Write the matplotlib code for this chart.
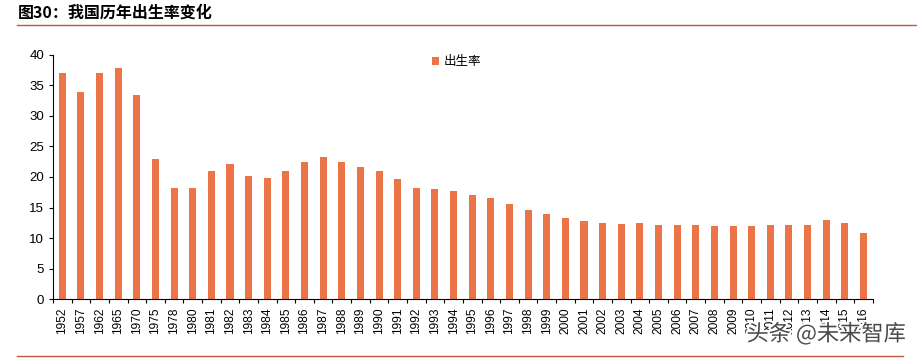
import matplotlib.pyplot as plt
import matplotlib.patheffects as pe
import numpy as np

plt.rcParams['font.family'] = ['Liberation Sans', 'Noto Sans CJK SC', 'DejaVu Sans']

# 年份与出生率（‰）
years = ['1952', '1957', '1962', '1965', '1970', '1975', '1978', '1980',
         '1981', '1982', '1983', '1984', '1985', '1986', '1987', '1988',
         '1989', '1990', '1991', '1992', '1993', '1994', '1995', '1996',
         '1997', '1998', '1999', '2000', '2001', '2002', '2003', '2004',
         '2005', '2006', '2007', '2008', '2009', '2010', '2011', '2012',
         '2013', '2014', '2015', '2016']
birth_rate = [37.0, 34.0, 37.0, 37.9, 33.5, 23.0, 18.25, 18.2,
              20.9, 22.2, 20.2, 19.9, 21.0, 22.4, 23.3, 22.4,
              21.6, 21.0, 19.7, 18.2, 18.0, 17.7, 17.0, 16.6,
              15.6, 14.6, 14.0, 13.3, 12.8, 12.4, 12.3, 12.4,
              12.1, 12.1, 12.1, 11.9, 11.9, 11.9, 12.1, 12.1,
              12.1, 13.0, 12.4, 10.9]

bar_color = '#EC7449'
line_color = '#B8593E'

fig = plt.figure(figsize=(9.17, 3.59), dpi=100)
ax = fig.add_axes([0.0578, 0.167, 0.894, 0.68])

x = np.arange(len(years))
ax.bar(x, birth_rate, width=0.38, color=bar_color, label='出生率', zorder=2)

ax.set_xlim(-0.5, len(years) - 0.5)
ax.set_ylim(0, 40)
ax.set_yticks(range(0, 41, 5))
ax.tick_params(axis='y', labelsize=9.5, length=3, direction='out', width=0.8)

# 类别刻度画在柱子之间，标签在中间
ax.set_xticks(x)
ax.set_xticklabels(years, rotation=90, fontsize=8.6)
ax.tick_params(axis='x', which='major', length=0, pad=6)
ax.set_xticks(np.arange(-0.5, len(years), 1), minor=True)
ax.tick_params(axis='x', which='minor', length=3, direction='out', width=0.8)

for s in ['top', 'right']:
    ax.spines[s].set_visible(False)
ax.spines['left'].set_linewidth(0.8)
ax.spines['bottom'].set_linewidth(0.8)

ax.legend(loc='upper left', bbox_to_anchor=(0.448, 1.045), frameon=False,
          handlelength=0.6, handleheight=0.6, handletextpad=0.4,
          prop={'family': ['Noto Sans CJK SC'], 'size': 9})

# 标题和上下分割线
fig.text(0.019, 0.965, '图30：我国历年出生率变化', fontsize=11.5, fontweight='bold',
         family=['Noto Sans CJK SC'], va='center', ha='left')
fig.add_artist(plt.Line2D([0.019, 1.0], [0.930, 0.930], color=line_color, lw=1.0))
fig.add_artist(plt.Line2D([0.019, 0.985], [0.008, 0.008], color=line_color, lw=1.0))

# 水印
fig.text(0.988, 0.07, '头条 @未来智库', fontsize=16, color='#4a4a4a',
         family=['Noto Sans CJK SC'], ha='right', va='center',
         path_effects=[pe.withStroke(linewidth=3, foreground='white')])

fig.savefig('out.png', dpi=100)
